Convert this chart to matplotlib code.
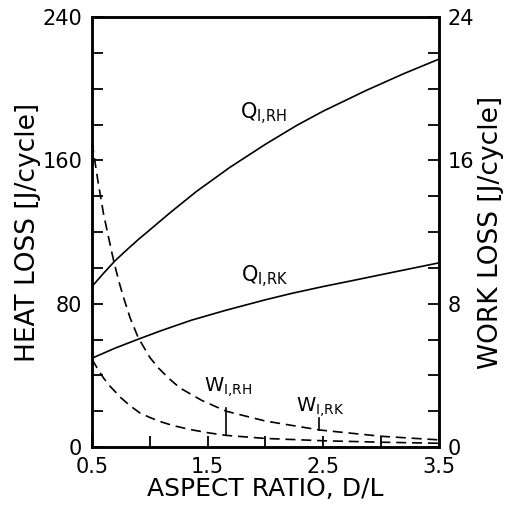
import matplotlib
matplotlib.use("Agg")
import matplotlib.pyplot as plt
from matplotlib.ticker import MultipleLocator

# heat losses, left axis [J/cycle]
x_qrh = [0.5, 0.6, 0.7, 0.8, 0.9, 1.0, 1.17, 1.4, 1.69, 2.0, 2.27, 2.5, 2.87, 3.2, 3.5]
q_rh = [89.6, 97, 104, 110, 115.8, 121.2, 130.5, 142.5, 156, 169, 179.5, 187.5, 199, 208.5, 216.5]

x_qrk = [0.5, 0.7, 0.9, 1.1, 1.36, 1.65, 2.0, 2.23, 2.5, 2.73, 3.0, 3.25, 3.5]
q_rk = [49.6, 55.2, 60.2, 65.0, 70.8, 76.2, 82.2, 85.8, 89.6, 92.6, 96.2, 99.5, 102.8]

# work losses, right axis [J/cycle]
x_wrh = [0.5, 0.55, 0.6, 0.65, 0.687, 0.73, 0.77, 0.83, 0.9, 1.0, 1.076, 1.17, 1.26,
         1.45, 1.66, 2.0, 2.47, 3.0, 3.5]
w_rh = [17.0, 14.9, 13.0, 11.5, 10.4, 9.3, 8.4, 7.2, 6.1, 5.0, 4.4, 3.8, 3.3,
        2.6, 2.0, 1.45, 0.95, 0.6, 0.4]

x_wrk = [0.5, 0.55, 0.6, 0.655, 0.75, 0.83, 0.915, 1.0, 1.1, 1.2, 1.347, 1.5, 1.66,
         2.0, 2.5, 3.0, 3.5]
w_rk = [4.9, 4.35, 3.85, 3.4, 2.75, 2.3, 1.9, 1.65, 1.4, 1.2, 0.98, 0.8, 0.65,
        0.48, 0.35, 0.27, 0.21]

xticks = [0.5, 1.5, 2.5, 3.5]
lticks = [0, 80, 160, 240]
rticks = [0, 8, 16, 24]

fig = plt.figure(figsize=(5.14, 5.08), dpi=100)
ax = fig.add_axes([0.179, 0.12, 0.675, 0.8465])
ax2 = ax.twinx()

ax.plot(x_qrh, q_rh, color="black", lw=1.2)
ax.plot(x_qrk, q_rk, color="black", lw=1.2)
ax2.plot(x_wrh, w_rh, color="black", lw=1.2, dashes=(6, 3.5))
ax2.plot(x_wrk, w_rk, color="black", lw=1.2, dashes=(6, 3.5))

# pointer lines for the W labels
ax2.plot([1.66, 1.66], [0.65, 2.2], color="black", lw=1.2)
ax2.plot([2.46, 2.46], [0.95, 1.6], color="black", lw=1.2)

ax.text(1.78, 183, r"Q$_{\mathregular{I{,}RH}}$", fontsize=15)
ax.text(1.79, 92, r"Q$_{\mathregular{I{,}RK}}$", fontsize=15)
ax2.text(1.47, 3.1, r"W$_{\mathregular{I{,}RH}}$", fontsize=14)
ax2.text(2.26, 2.0, r"W$_{\mathregular{I{,}RK}}$", fontsize=14)

ax.set_xlim(0.5, 3.5)
ax.set_ylim(0, 240)
ax2.set_ylim(0, 24)

ax.set_xticks(xticks)
ax.set_xticklabels([str(v) for v in xticks])
ax.xaxis.set_minor_locator(MultipleLocator(0.5))
ax.set_yticks(lticks)
ax.yaxis.set_minor_locator(MultipleLocator(20))
ax2.set_yticks(rticks)
ax2.yaxis.set_minor_locator(MultipleLocator(2))

for a in (ax, ax2):
    a.tick_params(which="both", direction="in", length=8, width=1.3, labelsize=15)
    for s in a.spines.values():
        s.set_linewidth(1.8)
ax.tick_params(axis="x", pad=7)
ax.tick_params(axis="y", pad=7)
ax2.tick_params(axis="y", pad=6)

ax.set_xlabel("ASPECT RATIO, D/L", fontsize=18, labelpad=0)
ax.set_ylabel("HEAT LOSS [J/cycle]", fontsize=19, labelpad=1)
ax2.set_ylabel("WORK LOSS [J/cycle]", fontsize=19, labelpad=3)

fig.savefig("out.png", dpi=100)
